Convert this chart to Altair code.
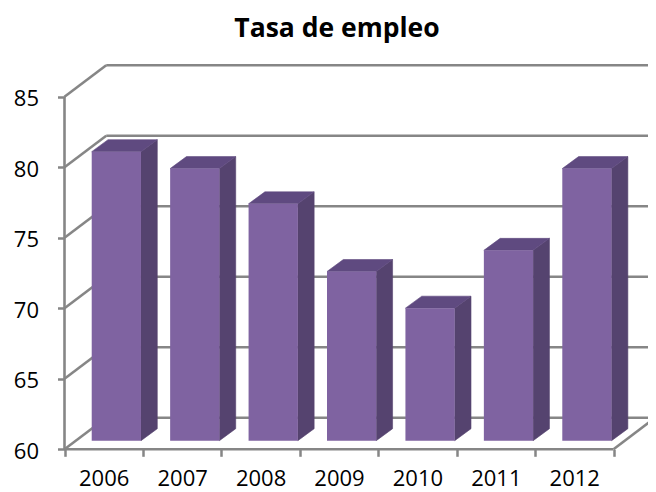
import altair as alt
import pandas as pd

years = ["2006", "2007", "2008", "2009", "2010", "2011", "2012"]
values = [80.5, 79.3, 76.8, 72.0, 69.4, 73.5, 79.3]
y_ticks = [60, 65, 70, 75, 80, 85]
title = "Tasa de empleo"

FONT = "Open Sans"
GRID = "#868686"
FRONT = "#7F63A1"
SIDE = "#55436F"
TOP = "#5F4A80"

# oblique projection, in axis units
WALL_X = 0.532
WALL_Y = 2.234
BAR_X0 = 0.347
BAR_W = 0.628
BAR_LIFT = 0.61
BAR_DX = 0.208
BAR_DY = 0.85
n = len(years)

xscale = alt.Scale(domain=[-0.7204, 7.4398], nice=False, zero=False)
yscale = alt.Scale(domain=[56.97, 91.30], nice=False, zero=False)

# wall, floor and axis lines
rows = []
def seg(k, x0, y0, x1, y1):
    rows.append({"k": k, "x": x0, "y": y0})
    rows.append({"k": k, "x": x1, "y": y1})
for v in y_ticks:
    seg(f"b{v}", WALL_X, v + WALL_Y, n + WALL_X, v + WALL_Y)
    seg(f"s{v}", 0, v, WALL_X, v + WALL_Y)
seg("axisy", 0, y_ticks[0], 0, y_ticks[-1])
seg("axisx", 0, y_ticks[0], n, y_ticks[0])
seg("floor", n, y_ticks[0], n + WALL_X, y_ticks[0] + WALL_Y)
lines = pd.DataFrame(rows)

front, side, topf = [], [], []
for i, v in enumerate(values):
    x0 = i + BAR_X0
    x1 = x0 + BAR_W
    base = y_ticks[0] + BAR_LIFT
    t = v + BAR_LIFT
    front.append({"x": x0, "x2": x1, "y": base, "y2": t})
    side.append({"b": i, "x": x1, "y": base, "y2": t})
    side.append({"b": i, "x": x1 + BAR_DX, "y": base + BAR_DY, "y2": t + BAR_DY})
    topf.append({"b": i, "y": t, "x": x0, "x2": x1})
    topf.append({"b": i, "y": t + BAR_DY, "x": x0 + BAR_DX, "x2": x1 + BAR_DX})

label_list = "[" + ",".join(f"'{y}'" for y in years) + "]"
x_axis = alt.Axis(
    values=list(range(n + 1)), grid=False, domain=False, title=None, orient="bottom",
    offset=-42.7, tickSize=7, tickColor=GRID, tickWidth=2.5,
    labelExpr=f"{label_list}[datum.value] || ''", labelOffset=39.2, labelPadding=12,
    labelFont=FONT, labelFontSize=22, labelColor="#000000",
    labelOverlap=False, labelBound=False, labelFlush=False,
)
y_axis = alt.Axis(
    values=y_ticks, grid=False, domain=False, title=None, orient="left",
    offset=-56.5, tickSize=7, tickColor=GRID, tickWidth=2.5, labelPadding=19,
    labelOffset=2,
    labelFont=FONT, labelFontSize=22, labelColor="#000000",
    labelOverlap=False, labelBound=False, labelFlush=False,
)

line_layer = alt.Chart(lines).mark_line(color=GRID, strokeWidth=2.6, clip=True).encode(
    x=alt.X("x:Q", scale=xscale, axis=x_axis),
    y=alt.Y("y:Q", scale=yscale, axis=y_axis),
    detail="k:N",
)
front_layer = alt.Chart(pd.DataFrame(front)).mark_rect(color=FRONT, opacity=1).encode(
    x=alt.X("x:Q", scale=xscale, axis=x_axis), x2="x2:Q",
    y=alt.Y("y:Q", scale=yscale, axis=y_axis), y2="y2:Q",
)
side_layer = alt.Chart(pd.DataFrame(side)).mark_area(
    color=SIDE, orient="vertical", opacity=1, stroke=SIDE, strokeWidth=0.6
).encode(
    x=alt.X("x:Q", scale=xscale, axis=x_axis),
    y=alt.Y("y:Q", scale=yscale, axis=y_axis), y2="y2:Q",
    detail="b:N",
)
top_layer = alt.Chart(pd.DataFrame(topf)).mark_area(
    color=TOP, orient="horizontal", opacity=1, stroke=TOP, strokeWidth=0.6
).encode(
    y=alt.Y("y:Q", scale=yscale, axis=y_axis),
    x=alt.X("x:Q", scale=xscale, axis=x_axis), x2="x2:Q",
    detail="b:N",
)

chart = alt.layer(line_layer, side_layer, top_layer, front_layer).properties(
    width=640, height=484, padding=0,
    autosize=alt.AutoSizeParams(type="none"),
    title=alt.TitleParams(
        text=title, font=FONT, fontSize=26.5, fontWeight="bold", color="#000000",
        anchor="middle", dx=9, dy=47, baseline="middle", offset=0,
    ),
).configure_view(stroke=None)

chart.save("out.html", embed_options={"renderer": "svg", "actions": False})
